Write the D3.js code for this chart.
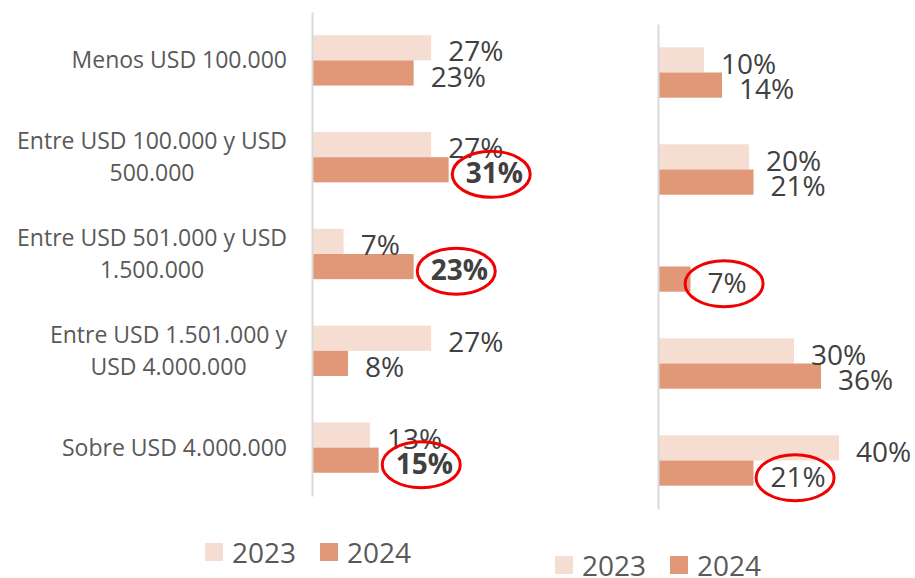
<!DOCTYPE html>
<html>
<head>
<meta charset="utf-8">
<script src="https://cdn.jsdelivr.net/npm/d3@7"></script>
<style>
    body { margin: 0; background: #fff; }
    svg { display: block; font-family: "Open Sans", sans-serif; }
</style>
</head>
<body>
<svg id="chart" width="915" height="578"></svg>
<script>

// data ///////////////////////////////////////////

const categories = [
    "Menos USD 100.000",
    "Entre USD 100.000 y USD 500.000",
    "Entre USD 501.000 y USD 1.500.000",
    "Entre USD 1.501.000 y USD 4.000.000",
    "Sobre USD 4.000.000"
];
const years = ["2023", "2024"];

const left2023 = [0.27, 0.27, 0.07, 0.27, 0.13];
const left2024 = [0.23, 0.31, 0.23, 0.08, 0.15];
const right2023 = [0.10, 0.20, null, 0.30, 0.40];
const right2024 = [0.14, 0.21, 0.07, 0.36, 0.21];

// 2024 labels circled in red
const circledLeft = [categories[1], categories[2], categories[4]];
const circledRight = [categories[2], categories[4]];

const colors = { "2023": "#f6ddd1", "2024": "#e09878" };

// layout /////////////////////////////////////////

const svg = d3.select("#chart");
const pct = d3.format(".0%");

const panels = [
    { v2023: left2023, v2024: left2024, circled: circledLeft, bold: true,
      x0: 313, x1: 488, y0: 12, y1: 496, cats: true,
      legend: { x: 205, y: 563 } },
    { v2023: right2023, v2024: right2024, circled: circledRight, bold: false,
      x0: 659, x1: 839, y0: 24, y1: 509, cats: false,
      legend: { x: 555, y: 576 } }
];

panels.forEach(p => drawPanel(p));

function drawPanel(p) {

    const rows = categories.map((c, i) => ({
        cat: c,
        bars: years.map(yr => ({ cat: c, year: yr, v: (yr == "2023" ? p.v2023 : p.v2024)[i] }))
    }));

    const x = d3.scaleLinear().domain([0, 0.4]).range([p.x0, p.x1]);
    const y = d3.scaleBand()
        .domain(categories)
        .range([p.y0, p.y1])
        .paddingInner(0.48)
        .paddingOuter(0.24);
    const yIn = d3.scaleBand().domain(years).range([0, y.bandwidth()]);

    const g = svg.append("g");

    // bars
    const rowG = g.selectAll("g.row")
        .data(rows)
        .join("g")
        .attr("class", "row")
        .attr("transform", d => `translate(0, ${ y(d.cat) })`);

    rowG.selectAll("rect")
        .data(d => d.bars.filter(b => b.v != null))
        .join("rect")
        .attr("x", x(0))
        .attr("y", d => yIn(d.year))
        .attr("width", d => x(d.v) - x(0))
        .attr("height", yIn.bandwidth())
        .attr("fill", d => colors[d.year]);

    // value labels
    rowG.selectAll("text.val")
        .data(d => d.bars.filter(b => b.v != null))
        .join("text")
        .attr("class", "val")
        .attr("x", d => x(d.v) + 17)
        .attr("y", d => yIn(d.year) + yIn.bandwidth() + 1)
        .attr("font-size", 28)
        .attr("fill", "#404040")
        .attr("font-weight", d => p.bold && d.year == "2024" && p.circled.includes(d.cat) ? 700 : 400)
        .text(d => pct(d.v));

    // red rings around highlighted labels
    rowG.selectAll("text.val")
        .filter(d => d.year == "2024" && p.circled.includes(d.cat))
        .each(function () {
            const bb = this.getBBox();
            d3.select(this.parentNode).append("ellipse")
                .attr("cx", bb.x + bb.width / 2 - 3)
                .attr("cy", bb.y + bb.height / 2 + 2)
                .attr("rx", 39)
                .attr("ry", 23)
                .attr("fill", "none")
                .attr("stroke", "#f00000")
                .attr("stroke-width", 3);
        });

    // axis line
    const axis = d3.axisLeft(y).tickSize(0).tickSizeOuter(0).tickFormat("");
    g.append("g")
        .attr("transform", `translate(${ x(0) - 1 }, 0)`)
        .call(axis)
        .call(a => a.select(".domain").attr("stroke", "#d9d9d9").attr("stroke-width", 2));

    // category labels
    if (p.cats) {
        const right = 287;
        const lab = g.selectAll("text.cat")
            .data(categories)
            .join("text")
            .attr("class", "cat")
            .attr("font-size", 23)
            .attr("fill", "#595959")
            .attr("text-anchor", "middle");
        lab.each(function (c) {
            const t = d3.select(this);
            const lines = wrap(t, c, 285);
            const widths = lines.map(l => { t.text(l); return this.getComputedTextLength(); });
            t.text(null);
            const cx = right - d3.max(widths) / 2;
            const cy = y(c) + y.bandwidth() / 2;
            lines.forEach((l, i) => {
                t.append("tspan")
                    .attr("x", cx)
                    .attr("y", cy + 8 + (i - (lines.length - 1) / 2) * 32)
                    .text(l);
            });
        });
    }

    // legend
    const leg = g.append("g")
        .attr("transform", `translate(${ p.legend.x }, ${ p.legend.y })`);
    const item = leg.selectAll("g")
        .data(years)
        .join("g")
        .attr("transform", (d, i) => `translate(${ i * 115 }, 0)`);
    item.append("rect")
        .attr("x", 0).attr("y", -20)
        .attr("width", 18).attr("height", 18)
        .attr("fill", d => colors[d]);
    item.append("text")
        .attr("x", 27)
        .attr("font-size", 28)
        .attr("fill", "#595959")
        .text(d => d);
}

function wrap(t, str, maxW) {
    const words = str.split(" ");
    const lines = [];
    let cur = [];
    words.forEach(w => {
        const test = cur.concat(w).join(" ");
        t.text(test);
        if (t.node().getComputedTextLength() > maxW && cur.length) {
            lines.push(cur.join(" "));
            cur = [w];
        } else {
            cur.push(w);
        }
    });
    if (cur.length) lines.push(cur.join(" "));
    return lines;
}

</script>
</body>
</html>
